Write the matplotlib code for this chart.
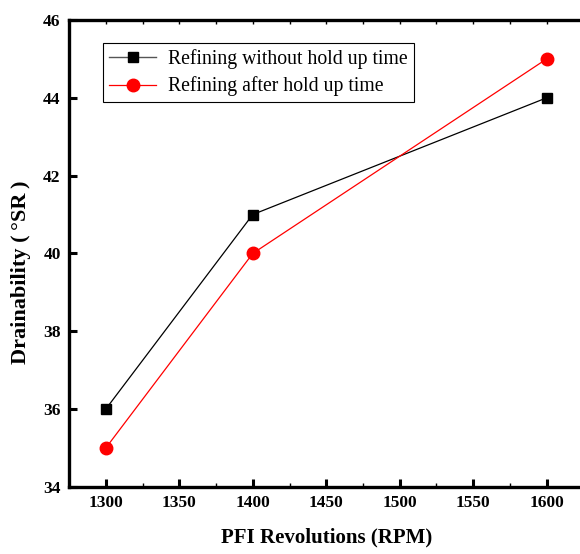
import matplotlib
matplotlib.use("Agg")
import matplotlib.pyplot as plt
from matplotlib.ticker import MultipleLocator, NullFormatter
from matplotlib.lines import Line2D

rpm = [1300, 1400, 1600]
without_hold = [36, 41, 44]
after_hold = [35, 40, 45]
labels = ["Refining without hold up time", "Refining after hold up time"]

plt.rcParams['font.family'] = ['Liberation Serif', 'DejaVu Serif']

fig = plt.figure(figsize=(5.8, 5.54), dpi=100)
ax = fig.add_axes([0.119, 0.121, 0.887, 0.843])

ax.plot(rpm, without_hold, color='black', lw=0.9, marker='s', ms=7.5)
ax.plot(rpm, after_hold, color='red', lw=0.9, marker='o', ms=9)

ax.set_xlim(1275, 1625)
ax.set_ylim(34, 46)
ax.xaxis.set_major_locator(MultipleLocator(50))
ax.xaxis.set_minor_locator(MultipleLocator(25))
ax.yaxis.set_major_locator(MultipleLocator(2))

for s in ax.spines.values():
    s.set_linewidth(2.4)
ax.spines['right'].set_visible(False)

ax.tick_params(axis='both', which='major', direction='in', length=6, width=2.2,
               labelsize=12.5, pad=6)
ax.tick_params(axis='x', which='minor', direction='in', length=3, width=1.0)
for lab in ax.get_xticklabels() + ax.get_yticklabels():
    lab.set_fontweight('bold')

# small ticks along the top spine
sec = ax.secondary_xaxis('top')
sec.xaxis.set_major_locator(MultipleLocator(25))
sec.xaxis.set_major_formatter(NullFormatter())
sec.tick_params(direction='in', length=3, width=1.0)
sec.spines['top'].set_visible(False)

ax.set_xlabel("PFI Revolutions (RPM)", fontsize=15, fontweight='bold', labelpad=12)
ax.set_ylabel("Drainability (\u2009°SR\u2009)", fontsize=16, fontweight='bold')
ax.yaxis.set_label_coords(-0.074, 0.46)

handles = [
    Line2D([], [], color='#555555', lw=1.0, marker='s', ms=7.5, mfc='black', mec='black'),
    Line2D([], [], color='red', lw=0.9, marker='o', ms=9, mfc='red', mec='red'),
]
leg = ax.legend(handles, labels, loc='upper left', bbox_to_anchor=(0.066, 0.951),
                borderaxespad=0, fontsize=14.2,
                frameon=True, fancybox=False, edgecolor='black', framealpha=1,
                handlelength=2.4, borderpad=0.3, labelspacing=0.4, handletextpad=0.6)
leg.get_frame().set_linewidth(0.8)

fig.savefig("out.png", dpi=100)
